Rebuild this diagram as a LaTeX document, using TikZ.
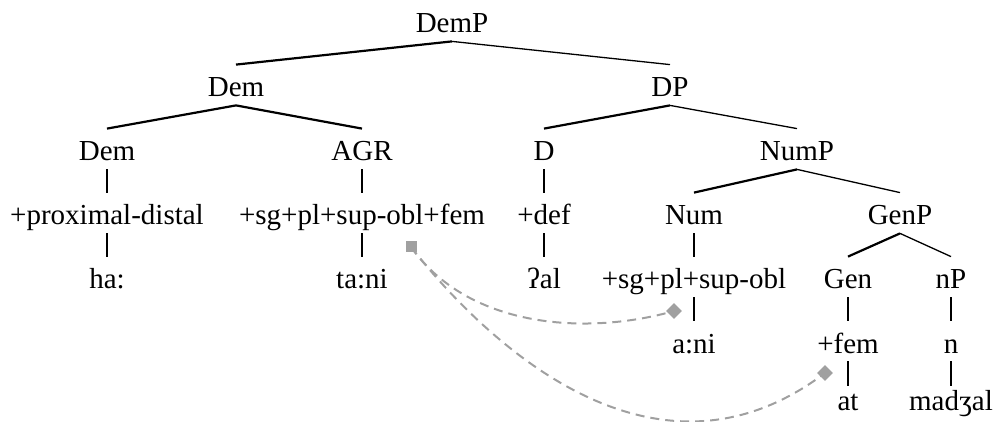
\documentclass[tikz,border=0pt]{standalone}
\usepackage{fontspec}
\setmainfont{Liberation Serif}
\usetikzlibrary{shapes.geometric}
\definecolor{linkgray}{RGB}{160,160,160}
\begin{document}
\begin{tikzpicture}[x=0.5pt,y=-0.5pt,
  lab/.style={anchor=base, inner xsep=0pt, inner ysep=4pt, text height=12pt, text depth=0pt,
              font=\fontsize{14.5}{17}\selectfont},
  lastlab/.style={lab, text height=8pt},
  lbranch/.style={line width=1.1pt},
  rbranch/.style={line width=0.65pt},
  vline/.style={line width=0.6pt},
  dashlink/.style={draw=linkgray, line width=1pt, dash pattern=on 4.5pt off 3pt},
  startmark/.style={rectangle, fill=linkgray, minimum size=5.5pt, inner sep=0pt},
  endmark/.style={diamond, fill=linkgray, minimum size=8pt, inner sep=0pt}
]
\useasboundingbox (0,0) rectangle (996,422);

% level 1
\node[lab] (demp) at (452,33) {DemP};
% level 2
\node[lab] (dem) at (236,97) {Dem};
\node[lab] (dp) at (670,97) {DP};
% level 3
\node[lab] (dem3) at (107,161) {Dem};
\node[lab] (agr) at (362,161) {AGR};
\node[lab] (d) at (544,161) {D};
\node[lab] (nump) at (797,161) {NumP};
% level 4
\node[lab] (prox) at (107,225) {+proximal-distal};
\node[lab] (feat) at (362,225) {+sg+pl+sup-obl+fem};
\node[lab] (def) at (544,225) {+def};
\node[lab] (num) at (694,225) {Num};
\node[lab] (genp) at (900,225) {GenP};
% level 5
\node[lab] (ha) at (107,289) {ha:};
\node[lab] (tani) at (362,289) {ta:ni};
\node[lab] (al) at (544,289) {ʔal};
\node[lab] (numf) at (694,289) {+sg+pl+sup-obl};
\node[lab] (gen) at (848,289) {Gen};
\node[lab] (np) at (951,289) {nP};
% level 6
\node[lab] (ani) at (694,353) {a:ni};
\node[lab] (fem) at (848,353) {+fem};
\node[lab] (n) at (951,353) {n};
% level 7
\node[lastlab] (at) at (848,410) {at};
\node[lastlab] (madz) at (951,410) {madʒal};

% branches
\draw[lbranch] (demp.south) -- (dem.north);
\draw[rbranch] (demp.south) -- (dp.north);
\draw[lbranch] (dem.south) -- (dem3.north);
\draw[lbranch] (dem.south) -- (agr.north);
\draw[lbranch] (dp.south) -- (d.north);
\draw[rbranch] (dp.south) -- (nump.north);
\draw[lbranch] (nump.south) -- (num.north);
\draw[rbranch] (nump.south) -- (genp.north);
\draw[lbranch] (genp.south) -- (gen.north);
\draw[rbranch] (genp.south) -- (np.north);

% unary lines
\draw[vline] (dem3.south) -- (prox.north);
\draw[vline] (prox.south) -- (ha.north);
\draw[vline] (agr.south) -- (feat.north);
\draw[vline] (feat.south) -- (tani.north);
\draw[vline] (d.south) -- (def.north);
\draw[vline] (def.south) -- (al.north);
\draw[vline] (num.south) -- (numf.north);
\draw[vline] (numf.south) -- (ani.north);
\draw[vline] (gen.south) -- (fem.north);
\draw[vline] (fem.south) -- (at.north);
\draw[vline] (np.south) -- (n.north);
\draw[vline] (n.south) -- (madz.north);

% dashed links
\node[startmark] (sq) at (411,247) {};
\node[endmark] (m1) at (674,311) {};
\node[endmark] (m2) at (825,373) {};
\draw[dashlink] (sq.center) .. controls (470,330) and (590,335) .. (m1.center);
\draw[dashlink] (sq.center) .. controls (480,335) and (650,505) .. (m2.center);
\end{tikzpicture}
\end{document}
